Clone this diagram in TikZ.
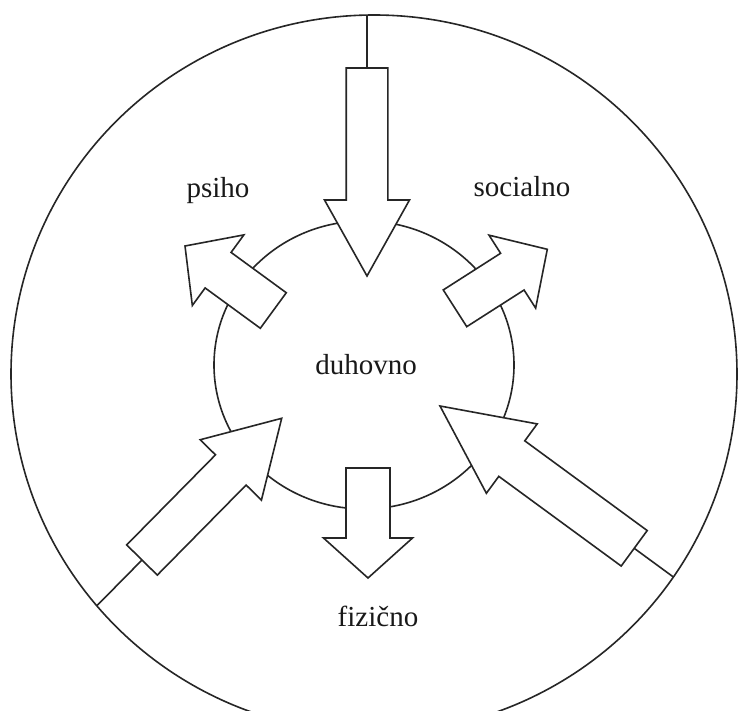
\documentclass[tikz,border=0pt]{standalone}
\usepackage{fontspec}
\setmainfont{Liberation Serif}
\usetikzlibrary{calc,intersections}
% #1 tail, #2 tip, #3 shaft half width, #4 head half width, #5 head length
\newcommand\fatarr[5]{%
  \draw[arrowbody] ($(#1)!#3!90:(#2)$)
    -- ($(#2)!#5!(#1)!#3!90:(#2)$)
    -- ($(#2)!#5!(#1)!#4!90:(#2)$)
    -- (#2)
    -- ($(#2)!#5!(#1)!#4!-90:(#2)$)
    -- ($(#2)!#5!(#1)!#3!-90:(#2)$)
    -- ($(#1)!#3!-90:(#2)$) -- cycle;}
\begin{document}
\begin{tikzpicture}[x=1pt,y=-1pt,
  ring/.style={draw=black!85,line width=1.6pt},
  conn/.style={draw=black!85,line width=1.6pt},
  arrowbody/.style={draw=black!85,fill=white,line width=1.6pt,line join=miter},
  lbl/.style={font=\fontsize{29}{34}\selectfont,inner sep=0pt,anchor=base,text=black!90}]
\useasboundingbox (0,0) rectangle (739,711);
\fill[white] (0,0) rectangle (739,711);
\clip (0,0) rectangle (739,711);
% circles
\draw[ring,name path=outer] (374,374) ellipse [x radius=363pt, y radius=359pt];
\draw[ring] (364,365) ellipse [x radius=150pt, y radius=144pt];
% arrow coordinates
\coordinate (tT) at (367,68);      \coordinate (tH) at (367,276);
\coordinate (bT) at (368,468);     \coordinate (bH) at (368,578);
\coordinate (pT) at (273.3,310.5); \coordinate (pH) at (185,246);
\coordinate (sT) at (455,308.3);   \coordinate (sH) at (547.3,249.3);
\coordinate (blT) at (142,560);    \coordinate (blH) at (281.7,418.3);
\coordinate (brT) at (634.2,548.3); \coordinate (brH) at (440,406);
% connecting lines to the outer circle
\path[name path=topext] (tT) -- ($(tH)!1.6!(tT)$);
\path[name path=blext] (blT) -- ($(blH)!1.8!(blT)$);
\path[name path=brext] (brT) -- ($(brH)!1.8!(brT)$);
\path[name intersections={of=outer and topext, by={tE}}];
\path[name intersections={of=outer and blext, by={blE}}];
\path[name intersections={of=outer and brext, by={brE}}];
\draw[conn] (tE) -- (tT);
\draw[conn] (blE) -- (blT);
\draw[conn] (brE) -- (brT);
% arrows
\fatarr{tT}{tH}{20.8pt}{42.5pt}{76pt}
\fatarr{bT}{bH}{22pt}{44.5pt}{40pt}
\fatarr{pT}{pH}{22pt}{43.7pt}{41pt}
\fatarr{sT}{sH}{21.8pt}{43.3pt}{41.5pt}
\fatarr{blT}{blH}{21.5pt}{43pt}{72.5pt}
\fatarr{brT}{brH}{22pt}{43pt}{89pt}
% labels
\node[lbl] (psiho) at (218,198) {psiho};
\node[lbl] (soc) at (522,197) {socialno};
\node[lbl] (duh) at (366,374) {duhovno};
\node[lbl] (fiz) at (378,626) {fizično};
\end{tikzpicture}
\end{document}
